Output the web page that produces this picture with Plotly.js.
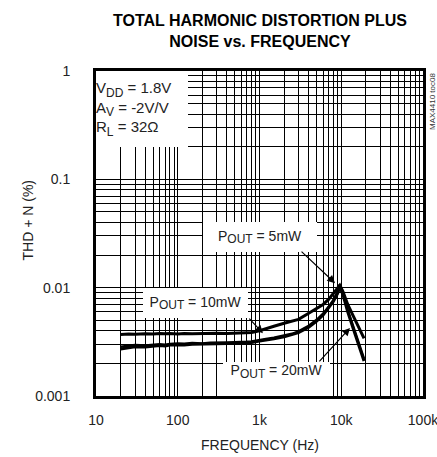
<!DOCTYPE html>
<html>
<head>
<meta charset="utf-8">
<script src="https://cdn.plot.ly/plotly-3.0.1.min.js"></script>
<style>html,body{margin:0;padding:0;background:#fff;}#chart{width:437px;height:457px;}</style>
</head>
<body>
<div id="chart"></div>
<script>
// Frequencies (Hz)
const freq = [20, 25, 30, 40, 50, 60, 70, 80, 100, 120, 150, 200, 250, 300, 400, 500, 600, 700, 800, 1000, 1200, 1500, 2000, 2500, 3000, 4000, 5000, 6000, 7000, 8000, 9000, 9600, 10500, 12000, 14000, 17000, 19000];
// THD+N (%) for each output power
const thd10mW = [0.00370, 0.00374, 0.00371, 0.00376, 0.00373, 0.00378, 0.00375, 0.00377, 0.00374, 0.00378, 0.00376, 0.00379, 0.00377, 0.00380, 0.00378, 0.00381, 0.00383, 0.00382, 0.00385, 0.00400, 0.00415, 0.00440, 0.00470, 0.00490, 0.00510, 0.00580, 0.00640, 0.00700, 0.00780, 0.00880, 0.00980, 0.01050, 0.00920, 0.00700, 0.00550, 0.00410, 0.00340];
const thd5mW  = [0.00285, 0.00290, 0.00295, 0.00292, 0.00298, 0.00300, 0.00297, 0.00302, 0.00305, 0.00303, 0.00308, 0.00306, 0.00310, 0.00309, 0.00312, 0.00314, 0.00313, 0.00316, 0.00318, 0.00330, 0.00336, 0.00345, 0.00360, 0.00375, 0.00395, 0.00445, 0.00505, 0.00575, 0.00665, 0.00765, 0.00920, 0.01070, 0.00900, 0.00620, 0.00440, 0.00280, 0.00220];
const thd20mW = [0.00272, 0.00280, 0.00285, 0.00283, 0.00289, 0.00292, 0.00290, 0.00295, 0.00297, 0.00296, 0.00301, 0.00300, 0.00304, 0.00303, 0.00306, 0.00308, 0.00307, 0.00310, 0.00312, 0.00322, 0.00328, 0.00337, 0.00352, 0.00368, 0.00385, 0.00432, 0.00490, 0.00560, 0.00645, 0.00745, 0.00880, 0.01010, 0.00860, 0.00600, 0.00420, 0.00270, 0.00210];

const xTickVals = [10, 100, 1000, 10000, 100000];
const xTickText = ['10', '100', '1k', '10k', '100k'];
const yTickVals = [0.001, 0.01, 0.1, 1];
const yTickText = ['0.001', '0.01', '0.1', '1'];

function minorLog(lo, hi) {
  const out = [];
  for (let d = lo; d < hi * 0.999; d *= 10) for (let k = 2; k <= 9; k++) out.push(d * k);
  return out;
}

const FONT = '"Liberation Sans", Arial, sans-serif';
const TXT = {family: FONT, size: 14, color: '#222'};

const traces = [
  {x: freq, y: thd10mW, mode: 'lines', line: {color: '#000', width: 3}, name: '10mW'},
  {x: freq, y: thd5mW, mode: 'lines', line: {color: '#000', width: 2.5}, name: '5mW'},
  {x: freq, y: thd20mW, mode: 'lines', line: {color: '#000', width: 3}, name: '20mW'}
];

const L = Math.log10;
const sub = s => '<sub><span style="font-size:12px">' + s + '</span></sub>';
function label(x, y, w, h, text, extra) {
  return Object.assign({xref: 'paper', yref: 'paper', x: x, y: y, xanchor: 'center', yanchor: 'middle',
    width: w, height: h, bgcolor: '#fff', borderpad: 0, borderwidth: 0, showarrow: false, text: text, font: TXT}, extra || {});
}
function arrow(f, v, ax, ay) {
  return {x: L(f), y: L(v), text: '', showarrow: true, arrowhead: 2, arrowsize: 1.3,
          arrowwidth: 1.2, arrowcolor: '#000', ax: ax, ay: ay, standoff: 0};
}

const layout = {
  width: 437, height: 457,
  margin: {l: 96, r: 14, t: 71, b: 61},
  paper_bgcolor: '#fff', plot_bgcolor: '#fff',
  showlegend: false,
  font: TXT,
  xaxis: {
    type: 'log', range: [1, 5],
    tickmode: 'array', tickvals: xTickVals, ticktext: xTickText,
    showgrid: true, gridcolor: '#000', gridwidth: 1,
    minor: {tickmode: 'array', tickvals: minorLog(10, 100000), showgrid: true, gridcolor: '#000', gridwidth: 1, ticks: ''},
    showline: true, mirror: true, linecolor: '#000', linewidth: 3,
    ticks: '', ticklabelstandoff: 9, ticklabeloverflow: 'allow', zeroline: false,
    tickfont: TXT
  },
  yaxis: {
    type: 'log', range: [-3, 0],
    tickmode: 'array', tickvals: yTickVals, ticktext: yTickText,
    showgrid: true, gridcolor: '#000', gridwidth: 1,
    minor: {tickmode: 'array', tickvals: minorLog(0.001, 1), showgrid: true, gridcolor: '#000', gridwidth: 1, ticks: ''},
    showline: true, mirror: true, linecolor: '#000', linewidth: 3,
    ticks: '', ticklabelstandoff: 20, ticklabeloverflow: 'allow', zeroline: false,
    tickfont: TXT
  },
  annotations: [
    // chart title
    {xref: 'paper', yref: 'paper', x: 0.5, y: 1.123, xanchor: 'center', yanchor: 'middle', showarrow: false,
     text: '<b>TOTAL HARMONIC DISTORTION PLUS<br>NOISE vs. FREQUENCY</b>', font: {family: FONT, size: 16, color: '#000'}},
    // axis titles
    {xref: 'paper', yref: 'paper', x: -0.211, y: 0.54, text: 'THD + N (%)', textangle: -90, showarrow: false,
     font: TXT, xanchor: 'center', yanchor: 'middle'},
    {xref: 'paper', yref: 'paper', x: 0.5, y: -0.151, text: 'FREQUENCY (Hz)', showarrow: false,
     font: TXT, xanchor: 'center', yanchor: 'middle'},
    // conditions
    label(0.1407, 0.883, 92, 76, 'V' + sub('DD') + ' = 1.8V<br>A' + sub('V') + ' = -2V/V<br>R' + sub('L') + ' = 32Ω',
          {align: 'left', font: {family: FONT, size: 15, color: '#222'}}),
    // side code
    {xref: 'paper', yref: 'paper', x: 1.031, y: 0.905, xanchor: 'center', yanchor: 'middle', textangle: -90, showarrow: false,
     text: 'MAX4410 toc08', font: {family: FONT, size: 8, color: '#333'}},
    // power labels
    label(0.5015, 0.489, 114, 30, 'P' + sub('OUT') + ' = 5mW'),
    label(0.304, 0.286, 105, 30, 'P' + sub('OUT') + ' = 10mW'),
    label(0.552, 0.052, 107, 34, 'P' + sub('OUT') + ' = 20mW', {valign: 'top'}),
    // arrows
    arrow(8400, 0.011, -35, -33),
    arrow(1100, 0.0038, -15, -16),
    arrow(12800, 0.00425, -32, 35)
  ]
};

Plotly.newPlot('chart', traces, layout, {staticPlot: true, displayModeBar: false});
</script>
</body>
</html>
